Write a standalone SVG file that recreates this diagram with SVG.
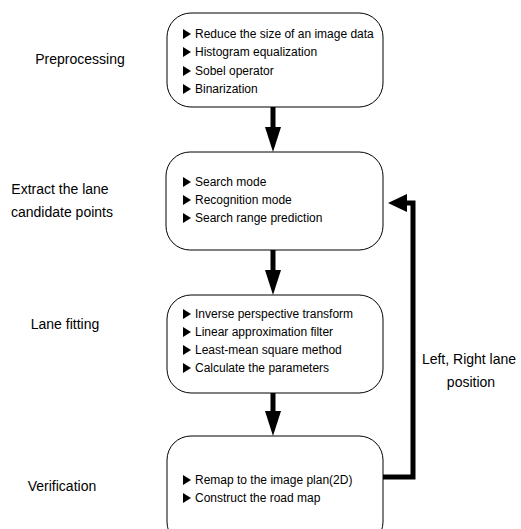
<svg xmlns="http://www.w3.org/2000/svg" width="521" height="529" viewBox="0 0 521 529">
<style>
.box{fill:#fff;stroke:#000;stroke-width:1}
.t{font-family:"Liberation Sans",Arial,sans-serif;font-size:12px;fill:#000}
.lbl{font-family:"Liberation Sans",Arial,sans-serif;font-size:14px;fill:#000}
.conn{fill:none;stroke:#000;stroke-width:5}
</style>
<defs>
<path id="bul" d="M0,-5 L8,0 L0,5 Z" fill="#000"/>
</defs>
<rect width="521" height="529" fill="#fff"/>
<g id="connectors">
<path class="conn" d="M273,107 V130"/><path d="M265,127 L281,127 L273,152 Z"/>
<path class="conn" d="M273,250 V273"/><path d="M265,270 L281,270 L273,295 Z"/>
<path class="conn" d="M273,393 V415"/><path d="M265,411 L281,411 L273,436 Z"/>
<path class="conn" d="M383,477 H413 V203 H404"/><path d="M407,194 L407,212 L388,203 Z"/>
</g>
<g id="preprocessing">
<rect class="box" x="167" y="13" width="216" height="94" rx="24"/>
<use href="#bul" x="183" y="34"/><text class="t" x="195" y="38">Reduce the size of an image data</text>
<use href="#bul" x="183" y="52"/><text class="t" x="195" y="56">Histogram equalization</text>
<use href="#bul" x="183" y="71"/><text class="t" x="195" y="75">Sobel operator</text>
<use href="#bul" x="183" y="89"/><text class="t" x="195" y="93">Binarization</text>
</g>
<g id="extract">
<rect class="box" x="166" y="152" width="217" height="98" rx="24"/>
<use href="#bul" x="183" y="182"/><text class="t" x="195" y="186">Search mode</text>
<use href="#bul" x="183" y="200"/><text class="t" x="195" y="204">Recognition mode</text>
<use href="#bul" x="183" y="218"/><text class="t" x="195" y="222">Search range prediction</text>
</g>
<g id="fitting">
<rect class="box" x="167" y="295" width="216" height="98" rx="24"/>
<use href="#bul" x="183" y="314"/><text class="t" x="195" y="318">Inverse perspective transform</text>
<use href="#bul" x="183" y="332"/><text class="t" x="195" y="336">Linear approximation filter</text>
<use href="#bul" x="183" y="350"/><text class="t" x="195" y="354">Least-mean square method</text>
<use href="#bul" x="183" y="368"/><text class="t" x="195" y="372">Calculate the parameters</text>
</g>
<g id="verification">
<rect class="box" x="167" y="436" width="216" height="110" rx="24"/>
<use href="#bul" x="183" y="480"/><text class="t" x="195" y="484">Remap to the image plan(2D)</text>
<use href="#bul" x="183" y="498"/><text class="t" x="195" y="502">Construct the road map</text>
</g>
<g id="labels">
<text class="lbl" x="80" y="64" text-anchor="middle">Preprocessing</text>
<text class="lbl" x="60" y="194" text-anchor="middle">Extract the lane</text>
<text class="lbl" x="62" y="217" text-anchor="middle">candidate points</text>
<text class="lbl" x="65" y="329" text-anchor="middle">Lane fitting</text>
<text class="lbl" x="62" y="491" text-anchor="middle">Verification</text>
<text class="lbl" x="469" y="364" text-anchor="middle">Left, Right lane</text>
<text class="lbl" x="471" y="387" text-anchor="middle">position</text>
</g>
</svg>
